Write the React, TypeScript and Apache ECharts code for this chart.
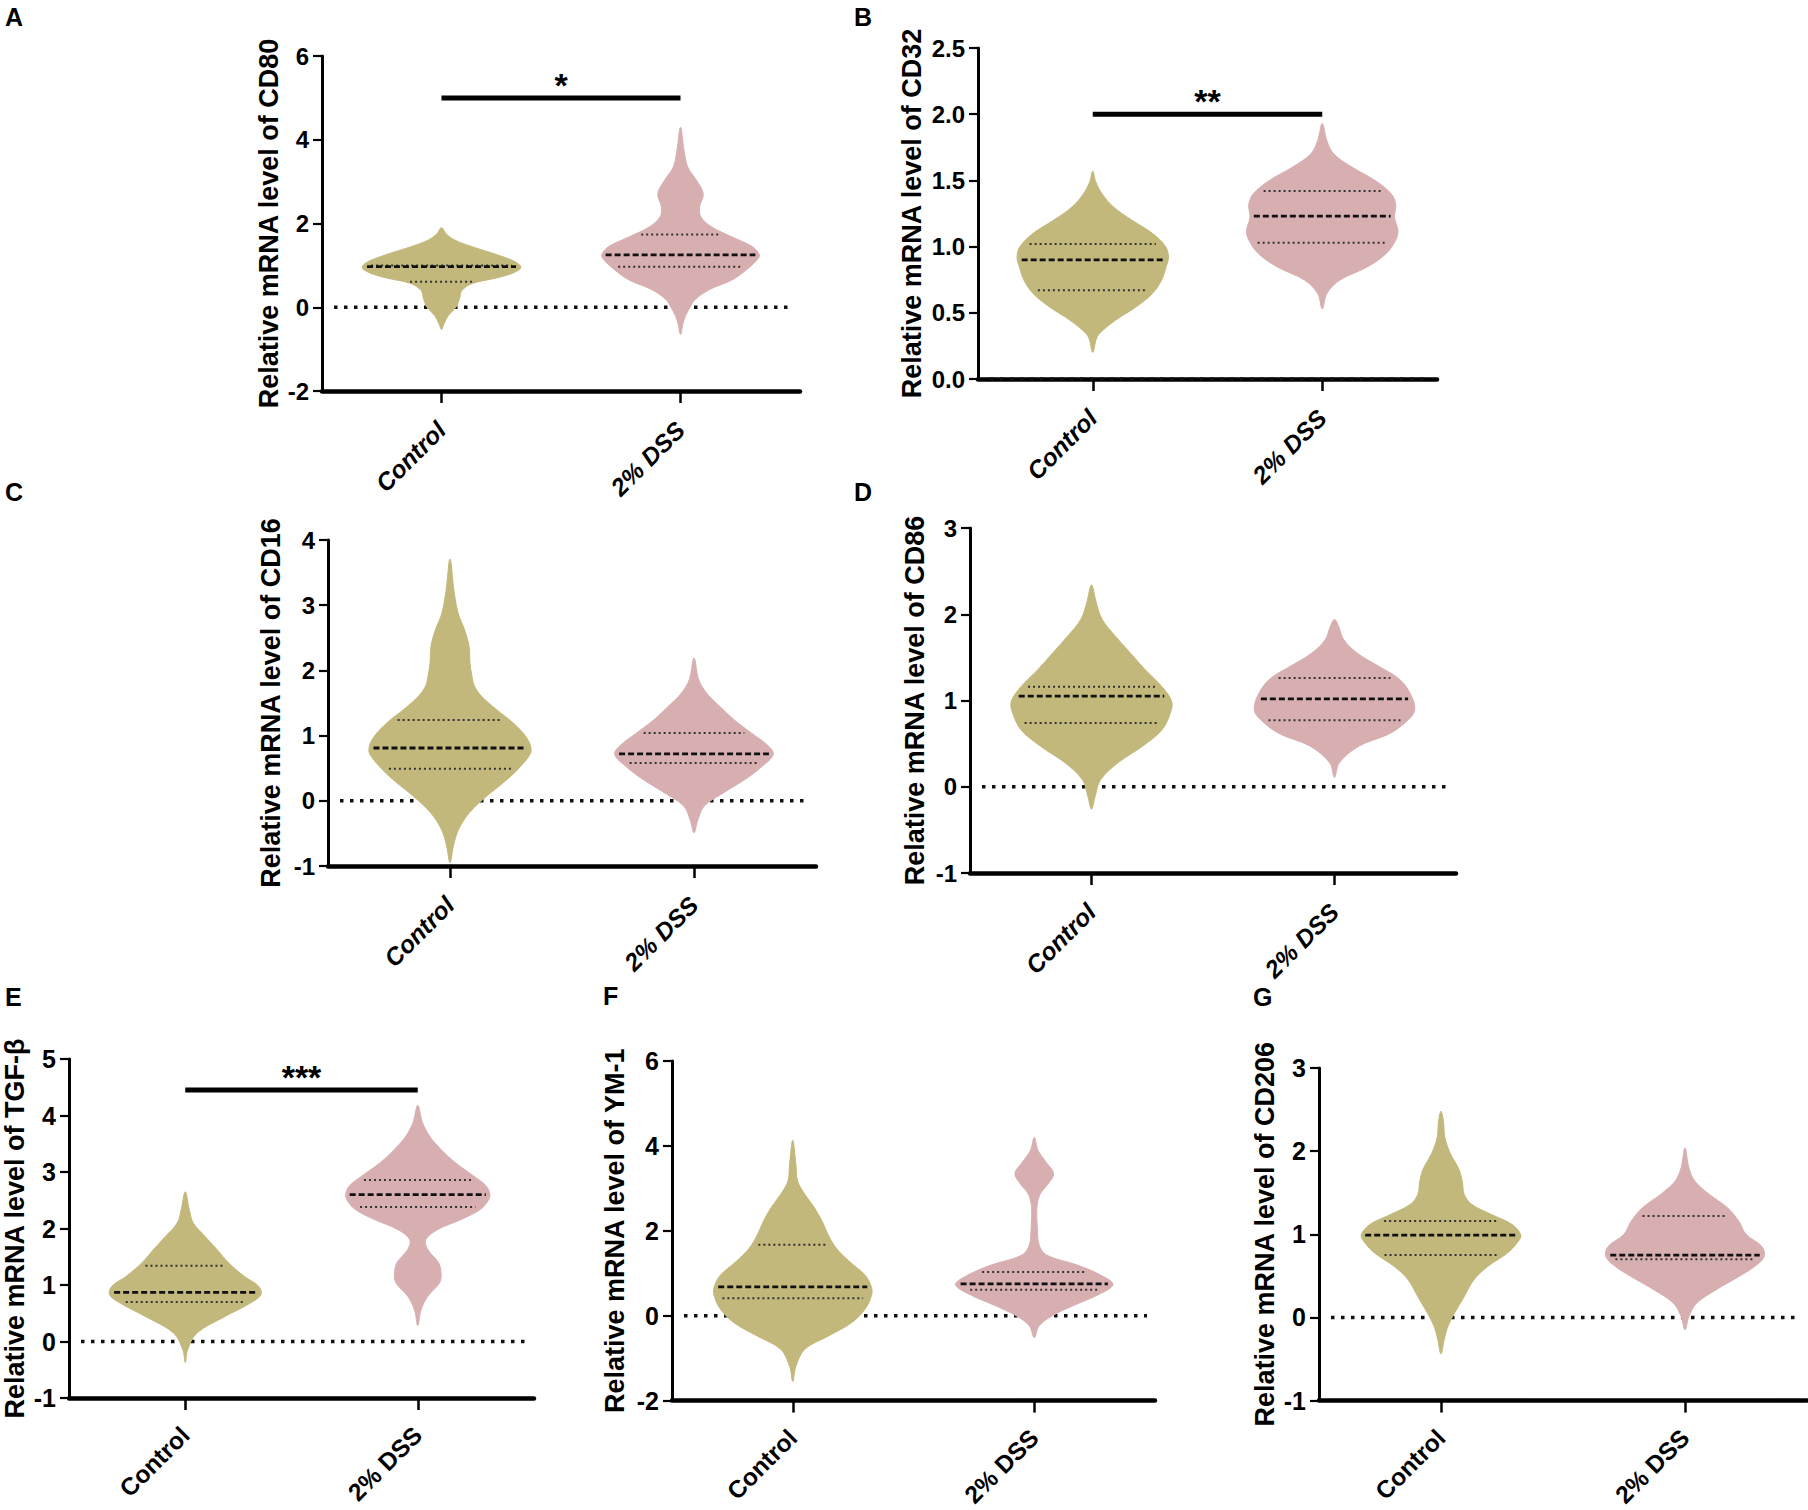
import React, { useEffect, useRef } from "react";
import * as echarts from "echarts";

// ---------- data ----------
const categories = ["Control", "2% DSS"];
const panelLetters = ["A", "B", "C", "D", "E", "F", "G"];
const axisTitles = [
  "Relative mRNA level of CD80",
  "Relative mRNA level of CD32",
  "Relative mRNA level of CD16",
  "Relative mRNA level of CD86",
  "Relative mRNA level of TGF-β",
  "Relative mRNA level of YM-1",
  "Relative mRNA level of CD206",
];
const yMin = [-2, 0, -1, -1, -1, -2, -1];
const yMax = [6, 2.5, 4, 3, 5, 6, 3];
const yStep = [2, 0.5, 1, 1, 1, 2, 1];
const yDecimals = [0, 1, 0, 0, 0, 0, 0];

// violin density profiles: [value, half-width as a fraction of the category band]
const cd80Control = [[-0.53,0],[-0.4,0.01],[-0.2,0.028],[0,0.06],[0.2,0.075],[0.4,0.085],[0.57,0.13],[0.7,0.23],[0.82,0.3],[0.95,0.332],[1.08,0.31],[1.22,0.25],[1.35,0.18],[1.5,0.1],[1.62,0.05],[1.75,0.02],[1.9,0]];
const cd80Dss = [[-0.65,0],[-0.4,0.01],[-0.22,0.02],[0,0.04],[0.18,0.06],[0.42,0.12],[0.65,0.215],[0.89,0.275],[1.13,0.32],[1.25,0.33],[1.45,0.3],[1.68,0.215],[1.92,0.13],[2.16,0.085],[2.4,0.08],[2.71,0.095],[3.03,0.067],[3.35,0.03],[3.74,0.015],[4.3,0]];
const cd32Control = [[0.2,0],[0.3,0.015],[0.345,0.03],[0.445,0.1],[0.546,0.19],[0.646,0.26],[0.747,0.3],[0.85,0.32],[0.92,0.33],[1.0,0.317],[1.1,0.26],[1.2,0.17],[1.3,0.09],[1.4,0.04],[1.49,0.013],[1.57,0]];
const cd32Dss = [[0.53,0],[0.646,0.02],[0.747,0.077],[0.85,0.2],[0.95,0.28],[1.05,0.32],[1.12,0.33],[1.22,0.315],[1.32,0.32],[1.4,0.3],[1.5,0.23],[1.6,0.13],[1.7,0.05],[1.8,0.02],[1.93,0]];
const cd16Control = [[-0.95,0],[-0.69,0.014],[-0.44,0.035],[-0.18,0.08],[0.07,0.15],[0.33,0.235],[0.53,0.29],[0.73,0.33],[0.84,0.33],[0.99,0.31],[1.19,0.26],[1.4,0.19],[1.6,0.13],[1.76,0.1],[1.91,0.09],[2.11,0.082],[2.37,0.078],[2.62,0.06],[2.88,0.033],[3.23,0.016],[3.71,0]];
const cd16Dss = [[-0.49,0],[-0.29,0.016],[-0.08,0.042],[0.12,0.12],[0.33,0.21],[0.53,0.28],[0.71,0.325],[0.84,0.305],[1.04,0.235],[1.24,0.165],[1.45,0.105],[1.65,0.052],[1.86,0.019],[2.19,0]];
const cd86Control = [[-0.26,0],[-0.11,0.015],[0.08,0.037],[0.28,0.11],[0.47,0.21],[0.66,0.29],[0.86,0.325],[0.99,0.33],[1.16,0.29],[1.36,0.22],[1.55,0.16],[1.74,0.1],[1.94,0.044],[2.13,0.02],[2.34,0]];
const cd86Dss = [[0.11,0],[0.28,0.02],[0.47,0.1],[0.62,0.23],[0.78,0.305],[0.89,0.33],[1.05,0.317],[1.24,0.27],[1.4,0.18],[1.55,0.093],[1.71,0.037],[1.86,0.017],[1.94,0]];
const tgfControl = [[-0.37,0],[-0.15,0.01],[0.15,0.05],[0.44,0.17],[0.68,0.28],[0.83,0.326],[0.98,0.315],[1.15,0.255],[1.39,0.187],[1.63,0.136],[1.86,0.085],[2.1,0.034],[2.34,0.017],[2.65,0]];
const tgfDss = [[0.28,0],[0.56,0.014],[0.8,0.043],[1.04,0.094],[1.21,0.1],[1.39,0.09],[1.63,0.043],[1.8,0.034],[1.98,0.085],[2.16,0.187],[2.34,0.27],[2.51,0.305],[2.6,0.31],[2.75,0.295],[2.93,0.24],[3.17,0.16],[3.4,0.1],[3.64,0.05],[3.88,0.02],[4.18,0]];
const ym1Control = [[-1.55,0],[-1.19,0.013],[-0.79,0.05],[-0.48,0.147],[-0.16,0.245],[0.16,0.3],[0.48,0.326],[0.67,0.326],[0.95,0.3],[1.27,0.236],[1.59,0.18],[1.9,0.147],[2.22,0.122],[2.54,0.09],[2.86,0.05],[3.17,0.02],[3.57,0.013],[4.13,0]];
const ym1Dss = [[-0.52,0],[-0.24,0.02],[0,0.075],[0.24,0.163],[0.48,0.26],[0.73,0.326],[0.95,0.277],[1.19,0.18],[1.43,0.05],[1.67,0.02],[2.06,0.013],[2.54,0.011],[2.86,0.024],[3.1,0.057],[3.35,0.08],[3.61,0.05],[3.89,0.016],[4.2,0]];
const cd206Control = [[-0.44,0],[-0.27,0.013],[-0.11,0.028],[0.05,0.055],[0.25,0.095],[0.45,0.134],[0.61,0.19],[0.77,0.27],[0.89,0.31],[0.99,0.327],[1.12,0.29],[1.24,0.205],[1.36,0.126],[1.48,0.095],[1.64,0.087],[1.8,0.071],[1.96,0.04],[2.16,0.016],[2.36,0.01],[2.48,0]];
const cd206Dss = [[-0.15,0],[0.01,0.016],[0.17,0.047],[0.33,0.126],[0.49,0.22],[0.61,0.284],[0.73,0.324],[0.85,0.316],[1.0,0.25],[1.16,0.22],[1.32,0.174],[1.48,0.1],[1.64,0.04],[1.8,0.016],[2.04,0]];

const profiles = [
  [cd80Control, cd80Dss],
  [cd32Control, cd32Dss],
  [cd16Control, cd16Dss],
  [cd86Control, cd86Dss],
  [tgfControl, tgfDss],
  [ym1Control, ym1Dss],
  [cd206Control, cd206Dss],
];

// [Control, 2% DSS]
const q1Values = [[0.61, 0.97], [0.67, 1.03], [0.49, 0.58], [0.74, 0.77], [0.70, 2.38], [0.41, 0.61], [0.75, 0.70]];
const medianValues = [[0.97, 1.25], [0.90, 1.23], [0.81, 0.72], [1.05, 1.02], [0.87, 2.60], [0.68, 0.75], [0.99, 0.75]];
const q3Values = [[1.00, 1.74], [1.02, 1.42], [1.24, 1.04], [1.16, 1.26], [1.34, 2.86], [1.67, 1.03], [1.16, 1.22]];

const sigBarLevel = [5, 2.0, null, null, 4.45, null, null];
const sigStars = ["*", "**", "", "", "***", "", ""];

// ---------- layout / style ----------
const grids = [
  { left: 322, top: 56, width: 478, height: 335 },
  { left: 978, top: 48, width: 459, height: 331 },
  { left: 328, top: 540, width: 488, height: 326 },
  { left: 970, top: 528, width: 486, height: 345 },
  { left: 69, top: 1059, width: 465, height: 339 },
  { left: 672, top: 1061, width: 483, height: 340 },
  { left: 1319, top: 1068, width: 488, height: 338 },
];
const nameGaps = [40, 53, 44, 42, 41, 44, 41];
const letterPos = [[5, 4], [854, 4], [5, 479], [854, 479], [5, 984], [603, 983], [1253, 984]];
const COLORS = ["#C3B87B", "#D8AFB0"];
const FONT = "'Liberation Sans', Arial, Helvetica, sans-serif";

function widthAt(prof: number[][], v: number): number {
  if (v <= prof[0][0] || v >= prof[prof.length - 1][0]) return 0;
  for (let i = 1; i < prof.length; i++) {
    if (v <= prof[i][0]) {
      const [v0, w0] = prof[i - 1];
      const [v1, w1] = prof[i];
      return w0 + ((w1 - w0) * (v - v0)) / (v1 - v0);
    }
  }
  return 0;
}

function violinRenderer(p: number) {
  return (params: any, api: any) => {
    const idx = params.dataIndex;
    const cat = api.value(0);
    const prof = profiles[p][idx];
    const band = api.size([1, 0])[0];
    const cx = api.coord([cat, 0])[0];
    const right: number[][] = [];
    const left: number[][] = [];
    prof.forEach(([v, w], i) => {
      const y = api.coord([cat, v])[1];
      right.push([cx + w * band, y]);
      if (i !== 0 && i !== prof.length - 1) left.unshift([cx - w * band, y]);
    });
    const pts = right.concat(left);
    const children: any[] = [
      {
        type: "polygon",
        shape: { points: pts, smooth: 0.35 },
        style: { fill: COLORS[idx], stroke: COLORS[idx], lineWidth: 1 },
      },
    ];
    const addLine = (v: number, inset: number, dash: number[], lw: number, color: string) => {
      const hw = widthAt(prof, v) * band - inset;
      if (hw <= 2) return;
      const y = api.coord([cat, v])[1];
      children.push({
        type: "line",
        shape: { x1: cx - hw, y1: y, x2: cx + hw, y2: y },
        style: { stroke: color, lineWidth: lw, lineDash: dash },
      });
    };
    addLine(q1Values[p][idx], 7, [2, 3], 2, "#333");
    addLine(q3Values[p][idx], 7, [2, 3], 2, "#333");
    addLine(medianValues[p][idx], 4, [6, 3], 2.8, "#111");
    return { type: "group", children };
  };
}

function zeroLineRenderer(params: any, api: any) {
  const cs = params.coordSys;
  const y0 = api.coord([0, 0])[1];
  return {
    type: "line",
    shape: { x1: cs.x + 12, y1: y0, x2: cs.x + cs.width - 8, y2: y0 },
    style: { stroke: "#111", lineWidth: 3.5, lineDash: [3.5, 6.5] },
  };
}

function sigRenderer(p: number) {
  return (params: any, api: any) => {
    const y = api.value(2);
    const p0 = api.coord([0, y]);
    const p1 = api.coord([1, y]);
    return {
      type: "group",
      children: [
        {
          type: "line",
          shape: { x1: p0[0], y1: p0[1], x2: p1[0], y2: p1[1] },
          style: { stroke: "#000", lineWidth: 5 },
        },
        {
          type: "text",
          x: (p0[0] + p1[0]) / 2,
          y: p0[1] - 13,
          style: {
            text: sigStars[p],
            fontSize: 34,
            fontWeight: "bold",
            fontFamily: FONT,
            fill: "#000",
            align: "center",
            verticalAlign: "middle",
          },
        },
      ],
    };
  };
}

function buildOption() {
  const grid: any[] = [];
  const xAxis: any[] = [];
  const yAxis: any[] = [];
  const series: any[] = [];
  const graphic: any[] = [];
  for (let p = 0; p < 7; p++) {
    const top4 = p < 4;
    grid.push({ ...grids[p], containLabel: false });
    xAxis.push({
      type: "category",
      gridIndex: p,
      data: categories,
      axisLine: { show: true, onZero: false, lineStyle: { color: "#000", width: 4.5 } },
      axisTick: { show: true, alignWithLabel: true, interval: 0, length: 12, lineStyle: { color: "#000", width: 2.5 } },
      axisLabel: {
        interval: 0,
        rotate: 45,
        margin: top4 ? 35 : 33,
        color: "#000",
        fontSize: 24.5,
        fontWeight: "bold",
        fontStyle: top4 ? "italic" : "normal",
        fontFamily: FONT,
      },
      splitLine: { show: false },
    });
    yAxis.push({
      type: "value",
      gridIndex: p,
      min: yMin[p],
      max: yMax[p],
      interval: yStep[p],
      name: axisTitles[p],
      nameLocation: "middle",
      nameGap: nameGaps[p],
      nameTextStyle: { color: "#000", fontSize: 27, fontWeight: "bold", fontFamily: FONT },
      axisLine: { show: true, onZero: false, lineStyle: { color: "#000", width: 3 } },
      axisTick: { show: true, length: 9, lineStyle: { color: "#000", width: 2.2 } },
      axisLabel: {
        margin: 13,
        color: "#000",
        fontSize: top4 ? 24 : 25,
        fontWeight: "bold",
        fontFamily: FONT,
        formatter: (v: number) => v.toFixed(yDecimals[p]),
      },
      splitLine: { show: false },
    });
    series.push({
      type: "custom",
      xAxisIndex: p,
      yAxisIndex: p,
      z: 1,
      silent: true,
      data: [[0, 0]],
      renderItem: zeroLineRenderer,
    });
    series.push({
      type: "custom",
      xAxisIndex: p,
      yAxisIndex: p,
      z: 2,
      silent: true,
      data: [[0, medianValues[p][0]], [1, medianValues[p][1]]],
      renderItem: violinRenderer(p),
    });
    if (sigBarLevel[p] !== null) {
      series.push({
        type: "custom",
        xAxisIndex: p,
        yAxisIndex: p,
        z: 3,
        silent: true,
        data: [[0, 1, sigBarLevel[p]]],
        renderItem: sigRenderer(p),
      });
    }
    graphic.push({
      type: "text",
      left: letterPos[p][0],
      top: letterPos[p][1],
      style: {
        text: panelLetters[p],
        fontSize: 25,
        fontWeight: "bold",
        fontFamily: FONT,
        fill: "#000",
      },
    });
  }
  return {
    animation: false,
    backgroundColor: "#fff",
    grid,
    xAxis,
    yAxis,
    series,
    graphic,
  };
}

export default function App() {
  const ref = useRef<HTMLDivElement>(null);
  useEffect(() => {
    document.body.style.margin = "0";
    if (!ref.current) return;
    const chart = echarts.init(ref.current, undefined, { renderer: "svg" });
    chart.setOption(buildOption() as any);
    return () => chart.dispose();
  }, []);
  return <div ref={ref} style={{ width: 1808, height: 1510 }} />;
}
